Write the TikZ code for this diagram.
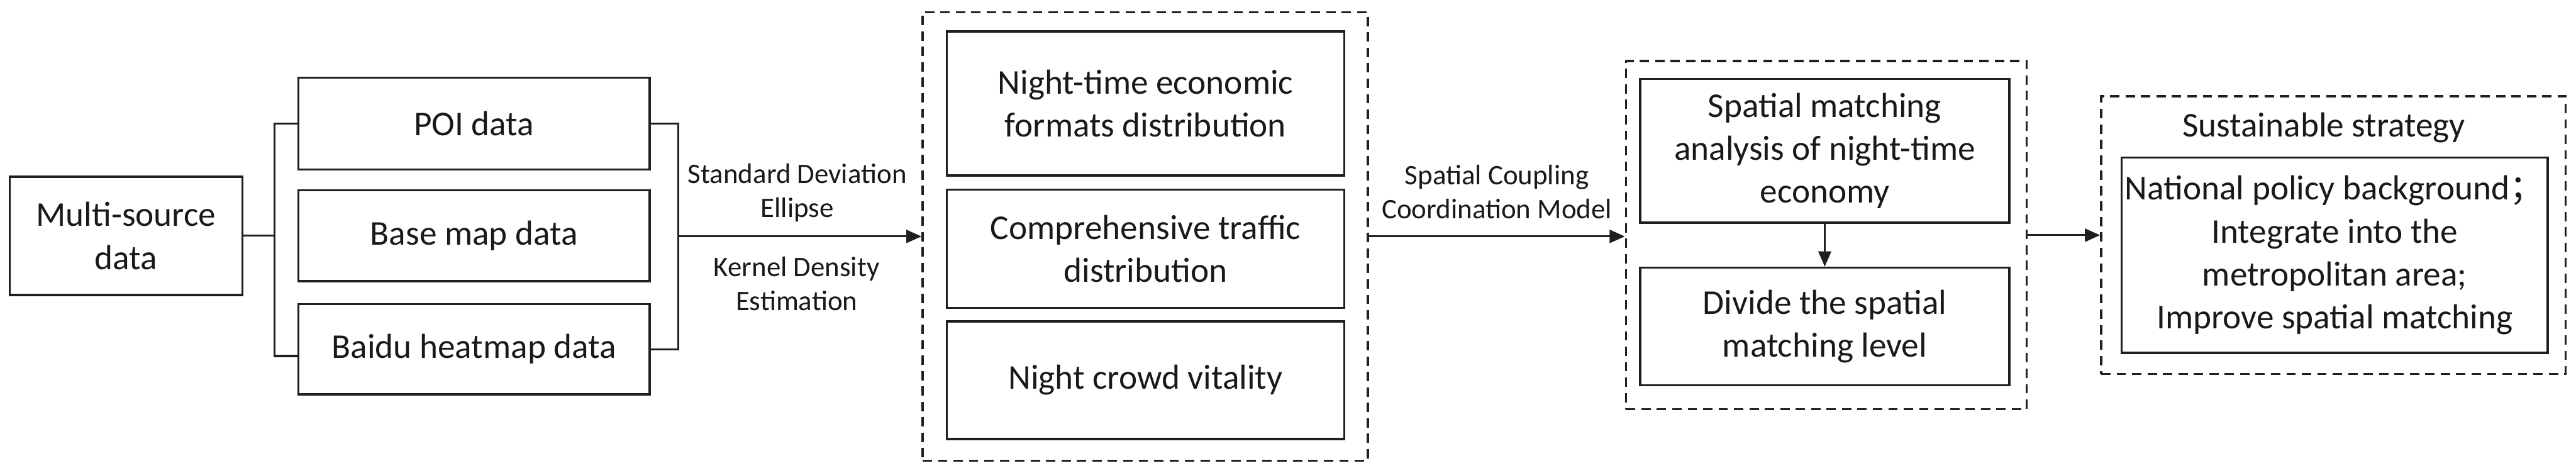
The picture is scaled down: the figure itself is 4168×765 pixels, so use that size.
\documentclass[tikz,border=0pt]{standalone}
\usepackage{fontspec}
\setmainfont{Carlito}
\newfontfamily\cjk{Noto Sans CJK SC}
\usetikzlibrary{arrows.meta,calc}
\begin{document}
\begin{tikzpicture}[x=0.01cm,y=-0.01cm,
  box/.style={draw=black!88, line width=1pt, align=center, inner sep=0pt, text=black!90, font=\fontsize{16}{19.8}\selectfont},
  group/.style={draw=black!88, line width=1pt, dash pattern=on 4.3pt off 2.8pt, inner sep=0pt},
  lbl/.style={align=center, inner sep=0pt, font=\fontsize{13}{15.6}\selectfont, text=black!90},
  conn/.style={draw=black!88, line width=0.9pt},
  arr/.style={conn, -{Triangle[length=7pt,width=6pt]}},
]
\path[use as bounding box, fill=white] (0,0) rectangle (4168,765);

% sources
\node[box, minimum width=3.76cm, minimum height=1.91cm] (ms) at (204,381.5) {Multi-source\\data};
\node[box, minimum width=5.68cm, minimum height=1.48cm] (poi) at (767,200) {POI data};
\node[box, minimum width=5.68cm, minimum height=1.47cm] (base) at (767,381.5) {Base map data};
\node[box, minimum width=5.68cm, minimum height=1.46cm] (baidu) at (767,565) {Baidu heatmap data};

% group 1
\node[group, minimum width=7.2cm, minimum height=7.25cm] (g1) at (1853,382.5) {};
\node[box, minimum width=6.43cm, minimum height=2.33cm] (n1) at (1853.5,167.5) {Night-time economic\\formats distribution};
\node[box, minimum width=6.43cm, minimum height=1.91cm] (n2) at (1853.5,402.5) {Comprehensive traffic\\distribution};
\node[box, minimum width=6.43cm, minimum height=1.90cm] (n3) at (1853.5,615) {Night crowd vitality};

% group 2
\node[group, minimum width=6.48cm, minimum height=5.63cm] (g2) at (2955,380.5) {};
\node[box, minimum width=5.97cm, minimum height=2.32cm] (a) at (2952.5,244) {Spatial matching\\analysis of night-time\\economy};
\node[box, minimum width=5.97cm, minimum height=1.90cm] (b) at (2952.5,528) {Divide the spatial\\matching level};

% group 3
\node[group, minimum width=7.51cm, minimum height=4.49cm] (g3) at (3775.5,380.5) {};
\node[lbl, font=\fontsize{16}{19.8}\selectfont] (st) at (3760,207) {Sustainable strategy};
\node[box, minimum width=6.89cm, minimum height=3.16cm] (c) at (3777.5,413) {National policy background{\cjk ；}\\Integrate into the\\metropolitan area;\\Improve spatial matching};

% connectors
\coordinate (jl) at (444,381.5);
\draw[conn] (ms.east) -- (jl);
\draw[conn] (poi.west) -| (jl) |- ($(baidu.west)+(0,11)$);
\coordinate (jr) at (1097,382.5);
\draw[conn] (poi.east) -| (jr) |- (baidu.east);
\draw[arr] (jr) -- (g1.west);
\draw[arr] (g1.east) -- (g1.east -| g2.west);
\draw[arr, line width=0.6pt] (a.south) -- (b.north);
\draw[arr] (g2.east) -- (g3.west);

% labels
\node[lbl] (sde) at (1290,312) {Standard Deviation\\Ellipse};
\node[lbl] (kde) at (1289,459) {Kernel Density\\Estimation};
\node[lbl] (sccm) at (2422,310) {Spatial Coupling\\Coordination Model};
\end{tikzpicture}
\end{document}
